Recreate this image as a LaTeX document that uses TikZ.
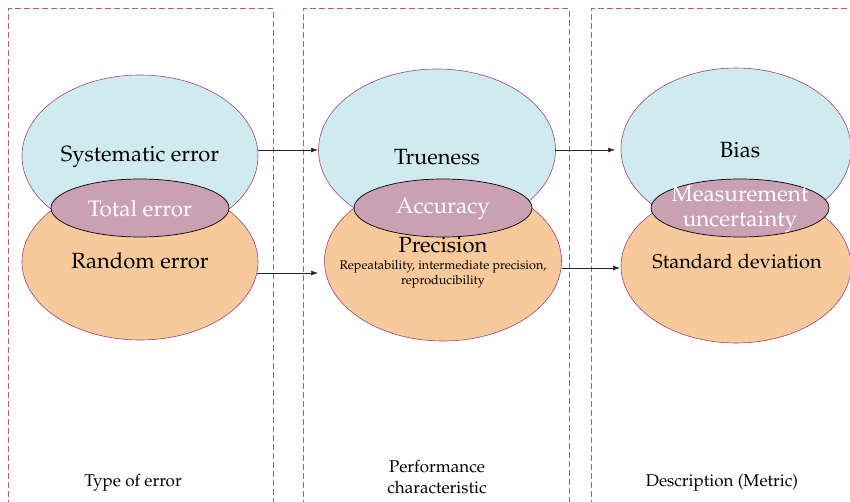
\documentclass[tikz,border=0pt]{standalone}
\usepackage[T1]{fontenc}
\usepackage{mathpazo}
\usetikzlibrary{shapes.geometric,arrows.meta}
\definecolor{cyanfill}{HTML}{CFEBEF}
\definecolor{orangefill}{HTML}{F8C99B}
\definecolor{lensfill}{HTML}{C9A1B3}
\definecolor{edgec}{HTML}{A0457A}
\definecolor{dashc}{HTML}{B05A88}
\tikzset{
  colbox/.style={draw=dashc, line width=1pt, dash pattern=on 6pt off 3pt},
  cyanell/.style={ellipse, draw=edgec, line width=0.6pt, fill=cyanfill, inner sep=0pt},
  orangeell/.style={ellipse, draw=edgec, line width=0.6pt, fill=orangefill, inner sep=0pt},
  lensell/.style={ellipse, draw=black, line width=0.7pt, fill=lensfill, inner sep=0pt, minimum width=178pt, minimum height=58pt},
  big/.style={font=\fontsize{22}{24}\selectfont, text=black},
  lenstxt/.style={font=\fontsize{22.5}{25}\selectfont, text=white, align=center},
  small/.style={font=\fontsize{12.6}{15}\selectfont, align=center},
  foot/.style={font=\fontsize{17}{21}\selectfont, align=center},
  arr/.style={-{Latex[length=7pt,width=5pt]}, line width=0.7pt, draw=black!85}
}
\begin{document}
\begin{tikzpicture}[x=1pt,y=-1pt]
\useasboundingbox (0,0) rectangle (850,502);
% dashed column boxes
\draw[colbox] (8,515) -- (8,9) -- (273,9) -- (273,515);
\draw[colbox] (303,515) -- (303,9) -- (569,9) -- (569,515);
\draw[colbox] (591,515) -- (591,9) -- (860,9);
% left column
\node[cyanell, minimum width=236pt, minimum height=162pt] (sys) at (140,156) {};
\node[orangeell, minimum width=236pt, minimum height=156pt] (rand) at (140,262) {};
\node[lensell] (tot) at (140,208) {};
% middle column
\node[cyanell, minimum width=237pt, minimum height=162pt] (true) at (437,150) {};
\node[orangeell, minimum width=237pt, minimum height=160pt] (prec) at (443,261) {};
\node[lensell] (acc) at (443,208) {};
% right column
\node[cyanell, minimum width=230pt, minimum height=162pt] (bias) at (736,149) {};
\node[orangeell, minimum width=230pt, minimum height=154pt] (sd) at (736,266) {};
\node[lensell] (mu) at (740,208) {};
% texts
\node[big] (tsys) at (140,157) {Systematic error};
\node[lenstxt] (ttot) at (140,209) {Total error};
\node[big] (trand) at (140,261) {Random error};
\node[big] (ttrue) at (437,157) {Trueness};
\node[lenstxt] (tacc) at (443,209) {Accuracy};
\node[big] (tprec) at (443,245) {Precision};
\node[small] (tprecsub) at (443,274) {Repeatability,\ intermediate precision,\\reproducibility};
\node[big] (tbias) at (740,150) {Bias};
\node[lenstxt] (tmu) at (740,209) {Measurement\\uncertainty};
\node[big, font=\fontsize{20}{22}\selectfont] (tsd) at (737,261) {Standard deviation};
% footer labels
\node[foot] (f1) at (133,483) {Type of error};
\node[foot] (f2) at (437,477) {Performance\\characteristic};
\node[foot] (f3) at (722,483) {Description (Metric)};
% arrows
\coordinate (a1s) at (258,150); \coordinate (a1e) at (318,150);
\coordinate (a2s) at (257,273); \coordinate (a2e) at (318,273);
\coordinate (a3s) at (555,150); \coordinate (a3e) at (615,150);
\coordinate (a4s) at (562,268); \coordinate (a4e) at (620,268);
\draw[arr] (a1s) -- (a1e);
\draw[arr] (a2s) -- (a2e);
\draw[arr] (a3s) -- (a3e);
\draw[arr] (a4s) -- (a4e);
\end{tikzpicture}
\end{document}
